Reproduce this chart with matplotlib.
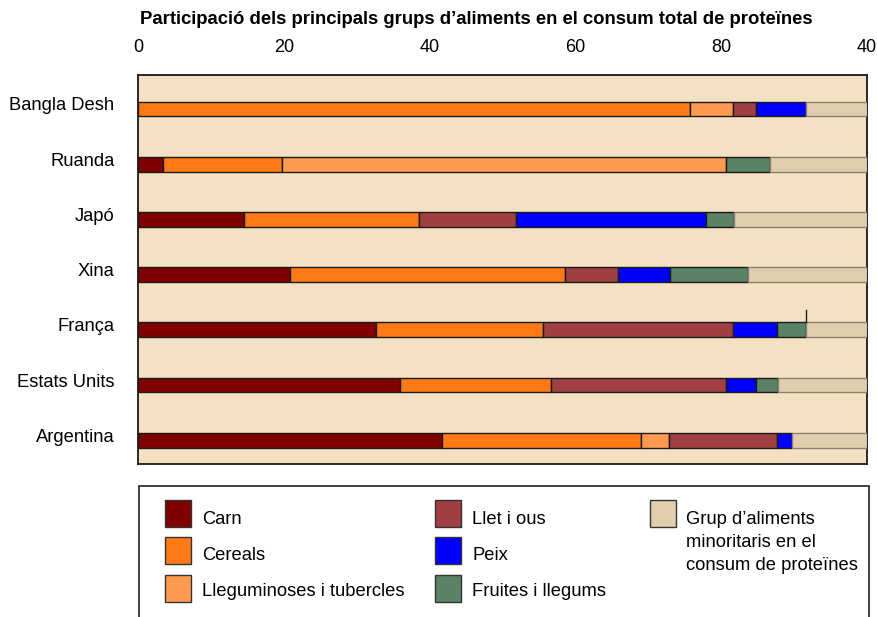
import matplotlib
matplotlib.use("Agg")
import matplotlib.pyplot as plt
from matplotlib.patches import Rectangle
import matplotlib.transforms as mtransforms
import numpy as np

plt.rcParams['font.family'] = ['Liberation Sans', 'DejaVu Sans']

title = "Participació dels principals grups d’aliments en el consum total de proteïnes"
countries = ["Bangla Desh", "Ruanda", "Japó", "Xina", "França", "Estats Units", "Argentina"]
groups = ["Carn", "Cereals", "Lleguminoses i tubercles", "Llet i ous", "Peix",
          "Fruites i llegums", "Grup d’aliments\nminoritaris en el\nconsum de proteïnes"]
colors = ["#800000", "#FF7A17", "#FF9A50", "#A04043", "#0000FF", "#5A8264", "#E0CEAD"]

carn     = [0.0, 3.4, 14.6, 20.8, 32.6, 35.9, 41.7]
cereals  = [75.7, 16.3, 23.9, 37.8, 22.9, 20.7, 27.3]
llegum   = [5.9, 60.9, 0.0, 0.0, 0.0, 0.0, 3.9]
llet     = [3.2, 0.0, 13.4, 7.3, 26.1, 24.0, 14.8]
peix     = [6.8, 0.0, 26.0, 7.1, 6.1, 4.2, 2.0]
fruites  = [0.0, 6.1, 3.9, 10.7, 3.9, 3.0, 0.0]
resta    = [8.4, 13.3, 18.2, 16.3, 8.4, 12.2, 10.3]

tick_vals = [0, 20, 40, 60, 80, 100]
tick_labels = ["0", "20", "40", "60", "80", "40"]

W, H = 877, 617
fig = plt.figure(figsize=(W / 100, H / 100), dpi=100)

def fx(px):
    return px / W

def fy(py):
    return 1 - py / H

ax = fig.add_axes([fx(138), fy(464), fx(867) - fx(138), fy(75) - fy(464)])
ax.set_facecolor("#F4E1C3")

series = [carn, cereals, llegum, llet, peix, fruites, resta]
y = np.arange(len(countries))
left = np.zeros(len(countries))
for i, (vals, col) in enumerate(zip(series, colors)):
    vals = np.array(vals)
    ec = "#8a7f70" if i == len(series) - 1 else "#1a1a1a"
    mask = vals > 0
    ax.barh(y[mask], vals[mask], left=left[mask], height=0.27, color=col,
            edgecolor=ec, linewidth=1.0, zorder=3)
    left += vals

# stray marker line above França at end of fruits segment
fi = countries.index("França")
xf = sum(s[fi] for s in series[:-1])
ax.plot([xf, xf], [fi - 0.135, fi - 0.36], color="#1a1a1a", lw=1, zorder=4)

ax.set_xlim(0, 100)
ax.set_ylim(len(countries) - 1 + 0.43, -0.615)
ax.xaxis.tick_top()
ax.set_xticks(tick_vals)
ax.set_xticklabels(tick_labels, fontsize=13)
ax.set_xticks([0, 100], minor=True)
ax.tick_params(axis="x", which="major", length=0, pad=14)
ax.tick_params(axis="x", which="minor", length=10, width=1.5, color="#1a1a1a", top=True, bottom=False)
ax.set_yticks(y)
ax.set_yticklabels(countries, fontsize=13.2)
ax.tick_params(axis="y", length=0, pad=17)
shift = mtransforms.ScaledTranslation(0, 5 / 100, fig.dpi_scale_trans)
for lab in ax.get_yticklabels():
    lab.set_transform(lab.get_transform() + shift)
for s in ax.spines.values():
    s.set_color("#1a1a1a")
    s.set_linewidth(1.3)

fig.text(fx(476), fy(20), title, fontsize=13.3, fontweight="bold", ha="center", va="center")

# legend box
fig.patches.append(Rectangle((fx(139), fy(640)), fx(869) - fx(139), fy(486) - fy(640),
                             transform=fig.transFigure, fill=False, edgecolor="#333333", lw=1.3))
positions = [(165, 500), (165, 537), (165, 575), (435, 500), (435, 537), (435, 575), (650, 500)]
baseline_off = [24, 23, 21, 24, 23, 21, 24]
for (px, py), off, lab, col in zip(positions, baseline_off, groups, colors):
    fig.patches.append(Rectangle((fx(px), fy(py + 27)), fx(26), 27 / H,
                                 transform=fig.transFigure, facecolor=col,
                                 edgecolor="#333333", lw=1.0))
    for k, line in enumerate(lab.split("\n")):
        fig.text(fx(px + 37 if "\n" not in lab else px + 36), fy(py + off + 23 * k), line,
                 fontsize=13.2, ha="left", va="baseline")

fig.savefig("out.png", dpi=100)
